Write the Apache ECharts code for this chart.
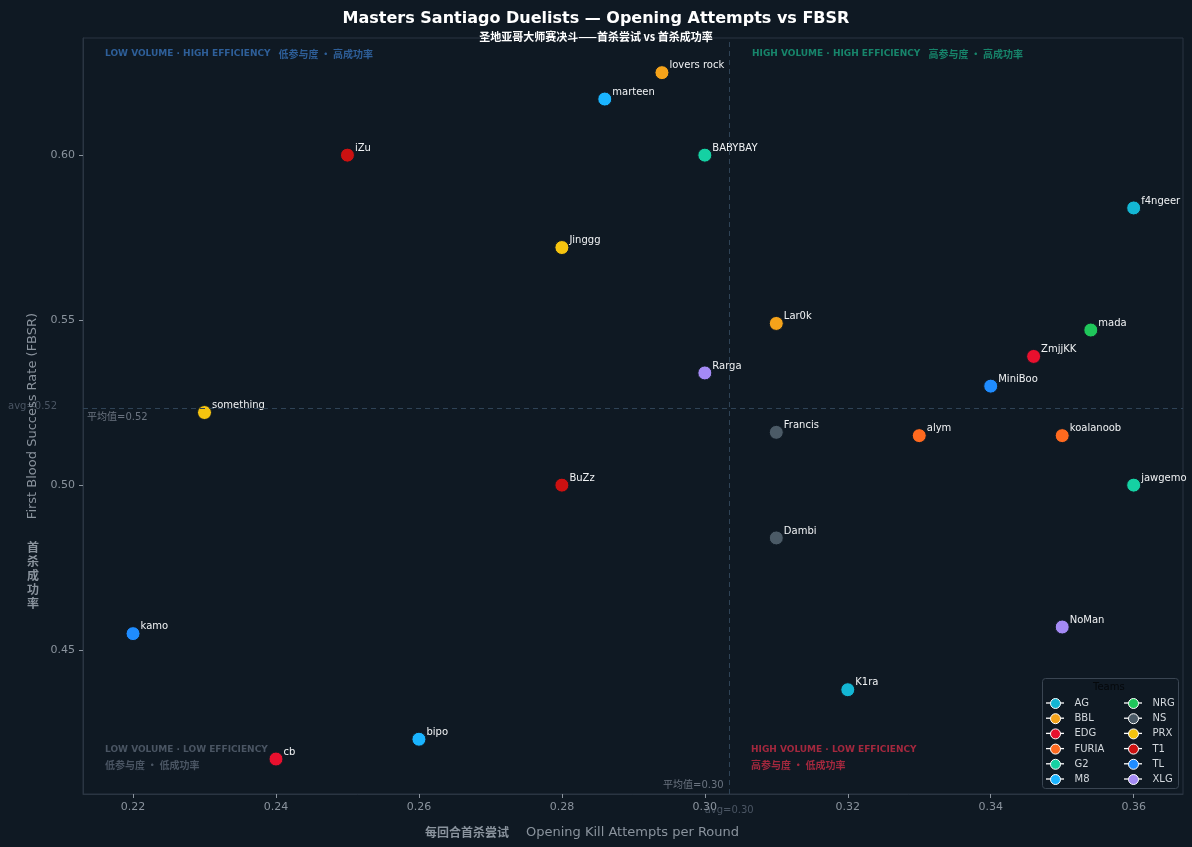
<!DOCTYPE html>
<html lang="en">
<head>
    <meta charset="UTF-8">
    <title>Masters Santiago Duelists</title>
    <style>
        html,body{
            padding: 0;margin: 0;background: #0f1923;
        }
        #chart{
            width: 1192px;height: 847px;
        }
    </style>
    <script src="https://cdn.jsdelivr.net/npm/echarts@6/dist/echarts.min.js"></script>
</head>
<body>
<div id="chart"></div>
</body>
</html>
<script>
    // players, their team, opening kill attempts per round and FBSR
    var players  = ['lovers rock','marteen','iZu','BABYBAY','f4ngeer','Jinggg','Lar0k','mada','ZmjjKK','Rarga','MiniBoo',
                    'something','Francis','alym','koalanoob','BuZz','jawgemo','Dambi','kamo','NoMan','K1ra','bipo','cb'];
    var playerTeam = ['BBL','M8','T1','G2','AG','PRX','BBL','NRG','EDG','XLG','TL',
                    'PRX','NS','FURIA','FURIA','T1','G2','NS','TL','XLG','AG','M8','EDG'];
    var attempts = [0.294,0.286,0.25,0.30,0.36,0.28,0.31,0.354,0.346,0.30,0.34,
                    0.23,0.31,0.33,0.35,0.28,0.36,0.31,0.22,0.35,0.32,0.26,0.24];
    var fbsr     = [0.625,0.617,0.60,0.60,0.584,0.572,0.549,0.547,0.539,0.534,0.530,
                    0.522,0.516,0.515,0.515,0.50,0.50,0.484,0.455,0.457,0.438,0.423,0.417];

    var teams      = ['AG','BBL','EDG','FURIA','G2','M8','NRG','NS','PRX','T1','TL','XLG'];
    var teamColors = ['#13b6d4','#f5a31a','#e8102e','#ff6a1f','#15d1a3','#1ab4ff','#1fc65a','#4b5a66','#f6c40f','#cc1111','#1f8cff','#a48af5'];

    var xTicks = [0.22,0.24,0.26,0.28,0.30,0.32,0.34,0.36];
    var yTicks = [0.45,0.50,0.55,0.60];

    var FONT = "'DejaVu Sans','Noto Sans CJK SC',sans-serif";
    var CJK = "'Noto Sans CJK SC','DejaVu Sans',sans-serif";

    function mean(arr){
        var s = 0;
        for(var i=0;i<arr.length;i++){ s += arr[i]; }
        return s/arr.length;
    }
    var avgX = mean(attempts), avgY = mean(fbsr);

    var series = teams.map(function(t, k){
        var data = [];
        for(var i=0;i<players.length;i++){
            if(playerTeam[i] == t){ data.push([attempts[i], fbsr[i], players[i]]); }
        }
        return {
            name: t,
            type: 'scatter',
            symbolSize: 14,
            data: data,
            z: 3,
            itemStyle: {color: teamColors[k], borderColor: '#0f1923', borderWidth: 1, opacity: 1},
            label: {
                show: true, position: 'right', distance: 0, offset: [0,-7],
                formatter: function(p){ return p.data[2]; },
                color: '#f0f2f4', fontSize: 10, fontFamily: FONT
            },
            emphasis: {disabled: true}
        };
    });

    // average lines
    series.push({
        type: 'scatter', data: [], silent: true,
        markLine: {
            silent: true, symbol: 'none', precision: 6, label: {show: false},
            lineStyle: {color: '#2f4356', type: [5,4], width: 1},
            data: [{xAxis: avgX}, {yAxis: avgY}]
        }
    });

    var legendText = {color: '#d3d8dd', fontSize: 10, fontFamily: FONT, padding: [0, 0, 0, 9]};
    var legendBase = {orient: 'vertical', top: 698, padding: 0, itemWidth: 10, itemHeight: 10, itemGap: 4.2, z: 6,
                      icon: 'circle', itemStyle: {borderColor: '#ffffff', borderWidth: 1}, textStyle: legendText};

    var chart = echarts.init(document.getElementById('chart'));
    chart.setOption({
        backgroundColor: '#0f1923',
        animation: false,
        title: {
            text: 'Masters Santiago Duelists — Opening Attempts vs FBSR',
            subtext: '圣地亚哥大师赛决斗——首杀尝试 vs 首杀成功率',
            left: 'center', top: 6, itemGap: 4,
            textStyle: {color: '#ffffff', fontSize: 16, fontWeight: 'bold', fontFamily: FONT},
            subtextStyle: {color: '#ffffff', fontSize: 11, fontWeight: 'bold', fontFamily: CJK}
        },
        grid: {left: 83, right: 9, top: 38, bottom: 53, show: true, borderColor: '#2a3542', borderWidth: 1, backgroundColor: 'transparent'},
        legend: [
            echarts.util.extend({data: teams.slice(0,6), left: 1050}, legendBase),
            echarts.util.extend({data: teams.slice(6), left: 1128}, legendBase)
        ],
        xAxis: {
            type: 'value', min: 0.2130, max: 0.3669,
            name: '{zh|每回合首杀尝试}{en|Opening Kill Attempts per Round}',
            nameLocation: 'middle', nameGap: 32,
            nameTextStyle: {padding: [0, 102, 0, 0], rich: {
                zh: {color: '#8a939d', fontSize: 12, fontWeight: 'bold', fontFamily: CJK},
                en: {color: '#8a939d', fontSize: 13, fontFamily: FONT, padding: [0, 0, 0, 17]}
            }},
            axisLine: {show: true, lineStyle: {color: '#2a3542'}},
            axisTick: {show: true, customValues: xTicks, length: 4, lineStyle: {color: '#8a939d'}},
            axisLabel: {customValues: xTicks, color: '#8a939d', fontSize: 11, fontFamily: FONT, margin: 8,
                        formatter: function(v){ return v.toFixed(2); }},
            splitLine: {show: false}
        },
        yAxis: {
            type: 'value', min: 0.4064, max: 0.6355,
            name: 'First Blood Success Rate (FBSR)',
            nameLocation: 'middle', nameGap: 43,
            nameTextStyle: {color: '#8a939d', fontSize: 13, fontFamily: FONT},
            axisLine: {show: true, lineStyle: {color: '#2a3542'}},
            axisTick: {show: true, customValues: yTicks, length: 4, lineStyle: {color: '#8a939d'}},
            axisLabel: {customValues: yTicks, color: '#8a939d', fontSize: 11, fontFamily: FONT, margin: 8,
                        formatter: function(v){ return v.toFixed(2); }},
            splitLine: {show: false}
        },
        series: series
    });

    var p = chart.convertToPixel({gridIndex: 0}, [avgX, avgY]);

    // quadrant notes: english + chinese parts
    function qt(x, y, en, zh, color, stacked){
        var text = stacked ? '{en|' + en + '}\n{zh|' + zh + '}' : '{en|' + en + '}{zh|' + zh + '}';
        return {type: 'text', left: x, top: y, z: 1, style: {
            text: text,
            rich: {
                en: {fill: color, fontSize: 9, fontWeight: 'bold', fontFamily: FONT, lineHeight: 16},
                zh: {fill: color, fontSize: 10, fontWeight: 'bold', fontFamily: CJK, lineHeight: 16,
                     padding: stacked ? 0 : [0, 0, 0, 8]}
            }
        }};
    }

    var graphics = [
        qt(105, 49, 'LOW VOLUME · HIGH EFFICIENCY', '低参与度 · 高成功率', '#2e5f99', false),
        qt(752, 49, 'HIGH VOLUME · HIGH EFFICIENCY', '高参与度 · 高成功率', '#17856b', false),
        qt(105, 745, 'LOW VOLUME · LOW EFFICIENCY', '低参与度 · 低成功率', '#4a5563', true),
        qt(751, 745, 'HIGH VOLUME · LOW EFFICIENCY', '高参与度 · 低成功率', '#a3283e', true),
        {type: 'text', left: 8, top: p[1] - 6, style: {text: 'avg=' + avgY.toFixed(2), fill: '#4a5563', font: '10px ' + FONT}},
        {type: 'text', left: 87, top: p[1] + 5, style: {text: '平均值=' + avgY.toFixed(2), fill: '#6b7480', font: '10px ' + FONT}},
        {type: 'text', right: 1192 - p[0] + 6, top: 780, style: {text: '平均值=' + avgX.toFixed(2), fill: '#6b7480', font: '10px ' + FONT}},
        {type: 'text', left: p[0] - 25, top: 805, style: {text: 'avg=' + avgX.toFixed(2), fill: '#4a5563', font: '10px ' + FONT}},
        {type: 'text', left: 27, top: 540, style: {text: '首\n杀\n成\n功\n率', fill: '#8a939d', font: 'bold 12px ' + CJK, lineHeight: 14}},
        {type: 'rect', left: 1042, top: 678, z: 0,
         shape: {width: 136, height: 110, r: 3}, style: {fill: '#0f1923', stroke: '#3a4552', lineWidth: 1}},
        {type: 'text', left: 1093, top: 682, style: {text: 'Teams', fill: '#05080b', font: '10px ' + FONT}}
    ];

    // white line behind each legend marker
    for(var r=0;r<6;r++){
        var yy = 703 + r*15.2;
        graphics.push({type: 'line', z: 2, shape: {x1: 1046, y1: yy, x2: 1064, y2: yy}, style: {stroke: '#ffffff', lineWidth: 1.3}});
        graphics.push({type: 'line', z: 2, shape: {x1: 1124, y1: yy, x2: 1142, y2: yy}, style: {stroke: '#ffffff', lineWidth: 1.3}});
    }
    chart.setOption({graphic: graphics});
</script>
